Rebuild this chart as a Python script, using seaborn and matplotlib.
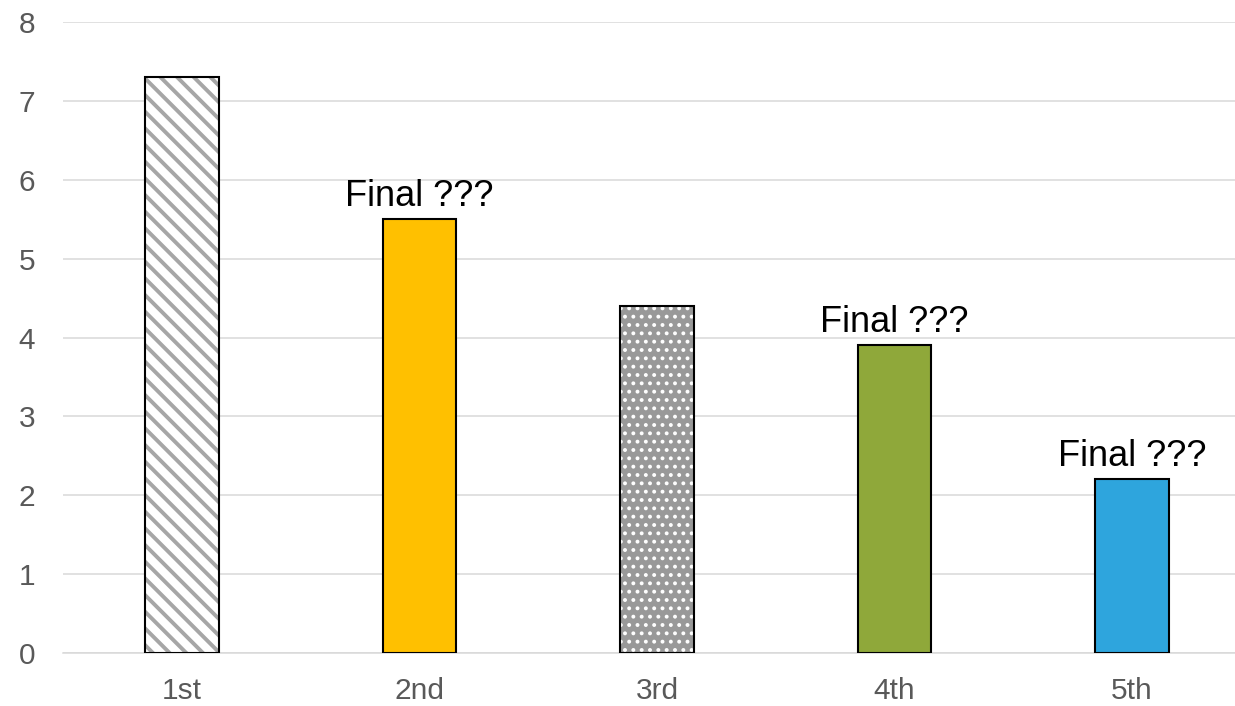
import matplotlib
matplotlib.use("Agg")
import matplotlib.pyplot as plt
import seaborn as sns
import pandas as pd

# chart data
places = ["1st", "2nd", "3rd", "4th", "5th"]
scores = [7.3, 5.5, 4.4, 3.9, 2.2]
bar_notes = ["", "Final ???", "", "Final ???", "Final ???"]
y_ticks = [0, 1, 2, 3, 4, 5, 6, 7, 8]

# styling
fills = ["#ffffff", "#ffc000", "#999999", "#8fa83a", "#2ea5dd"]
hatches = ["\\\\", None, "..", None, None]
hatch_cols = ["#a6a6a6", None, "#ffffff", None, None]

sns.set_style("white")
plt.rcParams["font.family"] = ["Liberation Sans", "DejaVu Sans"]
plt.rcParams["hatch.linewidth"] = 2.8

df = pd.DataFrame({"place": places, "score": scores})

fig = plt.figure(figsize=(12.35, 7.06), dpi=100)
ax = fig.add_axes([63 / 1235, 0.0751, 1 - 63 / 1235, 0.8937])

# fill layer (with patterns)
sns.barplot(data=df, x="place", y="score", hue="place", palette=fills,
            saturation=1, width=0.31, linewidth=0, legend=False, ax=ax, zorder=2)
for cont, h, hc in zip(ax.containers, hatches, hatch_cols):
    for p in cont:
        if h:
            p.set_hatch(h)
            p.set_edgecolor(hc)
            p.set_linewidth(0)
            if hasattr(p, "set_hatch_linewidth"):
                p.set_hatch_linewidth(2.8 if h.startswith("\\") else 1.6)

# outline layer
sns.barplot(data=df, x="place", y="score", fill=False, color="black",
            width=0.31, linewidth=1.5, edgecolor="black", ax=ax, zorder=3)
for p in ax.containers[-1]:
    p.set_edgecolor("black")
    p.set_facecolor("none")

for cont, note in zip(ax.containers[:5], bar_notes):
    ax.bar_label(cont, labels=[note], padding=4, fontsize=26, color="black")

ax.set_ylim(0, 8)
ax.set_xlim(-0.501, 4.434)
ax.set_yticks(y_ticks)
ax.yaxis.grid(True, color="#d9d9d9", linewidth=1.1, zorder=0)
ax.set_axisbelow(True)
for s in ["left", "right", "top"]:
    ax.spines[s].set_visible(False)
ax.spines["bottom"].set_color("#d9d9d9")
ax.spines["bottom"].set_linewidth(1.1)
ax.tick_params(axis="y", length=0, pad=20, labelsize=21.5, labelcolor="#595959")
ax.tick_params(axis="x", length=0, pad=17, labelsize=21.5, labelcolor="#595959")
ax.set_xlabel("")
ax.set_ylabel("")

fig.savefig("out.png", dpi=100)
